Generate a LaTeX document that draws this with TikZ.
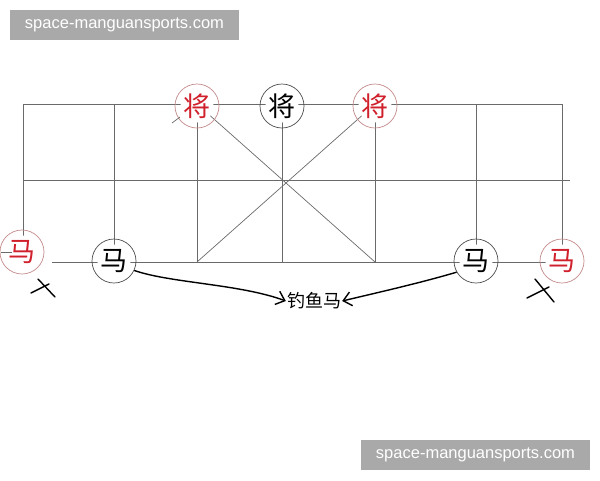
\documentclass[tikz,border=0pt]{standalone}
\usepackage{fontspec}
\setmainfont{Liberation Sans}
\newfontfamily\cjk{Noto Sans CJK SC}
\usetikzlibrary{arrows.meta}
\definecolor{gridc}{HTML}{6A6A6A}
\definecolor{redc}{HTML}{D0202C}
\definecolor{redring}{HTML}{C48A8A}
\definecolor{wmgray}{HTML}{A9A9A9}
\tikzset{
  gridline/.style={draw=gridc, line width=0.9pt},
  piece/.style={circle, line width=0.7pt, minimum size=44pt, inner sep=0pt,
    font=\cjk\fontsize{27}{27}\selectfont,
    path picture={\fill[white] (path picture bounding box.center) circle (16.5pt);}},
  blackpiece/.style={piece, draw=black!70, text=black},
  redpiece/.style={piece, draw=redring, text=redc},
  pointer/.style={draw=black, line width=1.4pt, -{Straight Barb[length=8pt, width=14pt, line width=1.4pt]}},
  crossmark/.style={draw=black, line width=1.4pt, line cap=round},
  watermark/.style={rectangle, fill=wmgray, text=white, minimum width=229pt, minimum height=30pt, inner sep=0pt, font=\fontsize{16.5}{17}\selectfont},
  labeltext/.style={font=\cjk\fontsize{18}{18}\selectfont, inner sep=1pt}
}
\begin{document}
\begin{tikzpicture}[x=1pt,y=-1pt]
\useasboundingbox (0,0) rectangle (600,480);
% grid
\draw[gridline] (23,104) -- (562,104);
\draw[gridline] (23,180) -- (570,180);
\draw[gridline] (52,262) -- (562,262);
\draw[gridline] (23,104) -- (23,240);
\foreach \x in {114,197,282,375,476,562} \draw[gridline] (\x,104) -- (\x,262);
% palace diagonals
\draw[gridline, line width=0.7pt] (197,104) -- (375,262);
\draw[gridline, line width=0.7pt] (375,104) -- (197,262);
% pieces
\node[redpiece]   (rj1) at (197,106) {将};
\node[blackpiece] (bj)  at (282,106) {将};
\node[redpiece]   (rj2) at (375,106) {将};
\node[redpiece]   (rm1) at (22,252)  {马};
\node[blackpiece] (bm1) at (114,261) {马};
\node[blackpiece] (bm2) at (476,261) {马};
\node[redpiece]   (rm2) at (562,261) {马};
% small stubs
\draw[gridline, line width=0.7pt] (172,123) -- (180,117);
\draw[gridline, line width=0.7pt] (1,252) -- (12,252);
% label
\node[labeltext] (lbl) at (314,301) {钓鱼马};
% arrows
\draw[pointer] (bm1.-25) .. controls (170,283) and (240,284) .. (lbl.west);
\draw[pointer] (bm2.-150) .. controls (420,283) and (380,292) .. (lbl.east);
% crosses
\draw[crossmark] (31,293) -- (49,284);
\draw[crossmark] (38,279) -- (55,297);
\draw[crossmark] (527,298) -- (549,287);
\draw[crossmark] (535,279) -- (554,302);
% watermarks
\node[watermark] (wm1) at (124.5,25) {space-manguansports.com};
\node[watermark] (wm2) at (475.5,455) {space-manguansports.com};
\end{tikzpicture}
\end{document}
